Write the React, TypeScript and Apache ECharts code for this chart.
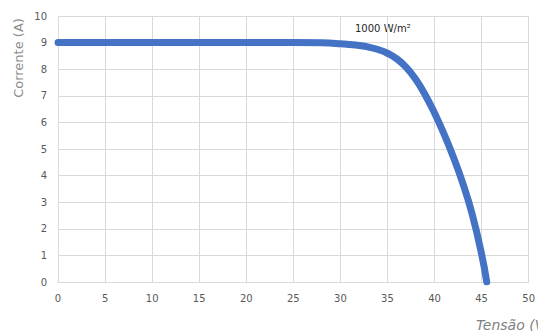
import React, { useEffect, useRef } from "react";
import * as echarts from "echarts";

const voltage = [0, 5, 10, 15, 20, 25, 28, 30, 31, 32, 33, 34, 35, 36, 37, 38, 39, 40, 41, 42, 43, 44, 45, 45.55];
const current = [9, 9, 9, 9, 9, 9, 8.99, 8.96, 8.93, 8.89, 8.83, 8.74, 8.6, 8.39, 8.07, 7.62, 7.04, 6.35, 5.57, 4.7, 3.72, 2.55, 1.05, 0];
const seriesLabel = "1000 W/m²";
const yTitle = "Corrente (A)";
const xTitle = "Tensão (V)";

export default function App() {
  const ref = useRef<HTMLDivElement>(null);
  useEffect(() => {
    if (!ref.current) return;
    const chart = echarts.init(ref.current, null, { renderer: "svg" });
    const font = "DejaVu Sans";
    chart.setOption({
      animation: false,
      backgroundColor: "#ffffff",
      grid: { left: 58, right: 7, top: 16, bottom: 49, containLabel: false },
      xAxis: {
        type: "value",
        min: 0,
        max: 50,
        interval: 5,
        axisLine: { show: true, lineStyle: { color: "#d9d9d9" } },
        axisTick: { show: false },
        axisLabel: { color: "#595959", fontFamily: font, fontSize: 10, margin: 11 },
        splitLine: { show: true, lineStyle: { color: "#d9d9d9" } },
      },
      yAxis: {
        type: "value",
        min: 0,
        max: 10,
        interval: 1,
        axisLine: { show: true, lineStyle: { color: "#d9d9d9" } },
        axisTick: { show: false },
        axisLabel: { color: "#595959", fontFamily: font, fontSize: 10, margin: 11 },
        splitLine: { show: true, lineStyle: { color: "#d9d9d9" } },
      },
      series: [
        {
          type: "line",
          data: voltage.map((v, i) => [v, current[i]]),
          smooth: 0.5,
          showSymbol: false,
          lineStyle: { color: "#4472C4", width: 7, cap: "round", join: "round" },
        },
      ],
      graphic: [
        {
          type: "text",
          x: 18,
          y: 58,
          rotation: Math.PI / 2,
          style: {
            text: yTitle,
            fill: "#8c8c8c",
            font: `13px ${font}`,
            align: "center",
            verticalAlign: "middle",
          },
        },
        {
          type: "text",
          x: 476,
          y: 325,
          style: {
            text: xTitle,
            fill: "#7f7f7f",
            font: `italic 14px ${font}`,
            align: "left",
            verticalAlign: "middle",
          },
        },
        {
          type: "text",
          x: 355,
          y: 28,
          style: {
            text: seriesLabel,
            fill: "#262626",
            font: `10px ${font}`,
            align: "left",
            verticalAlign: "middle",
          },
        },
      ],
    });
    return () => chart.dispose();
  }, []);
  return (
    <div
      ref={ref}
      style={{ position: "fixed", left: 0, top: 0, width: 538, height: 331 }}
    />
  );
}
